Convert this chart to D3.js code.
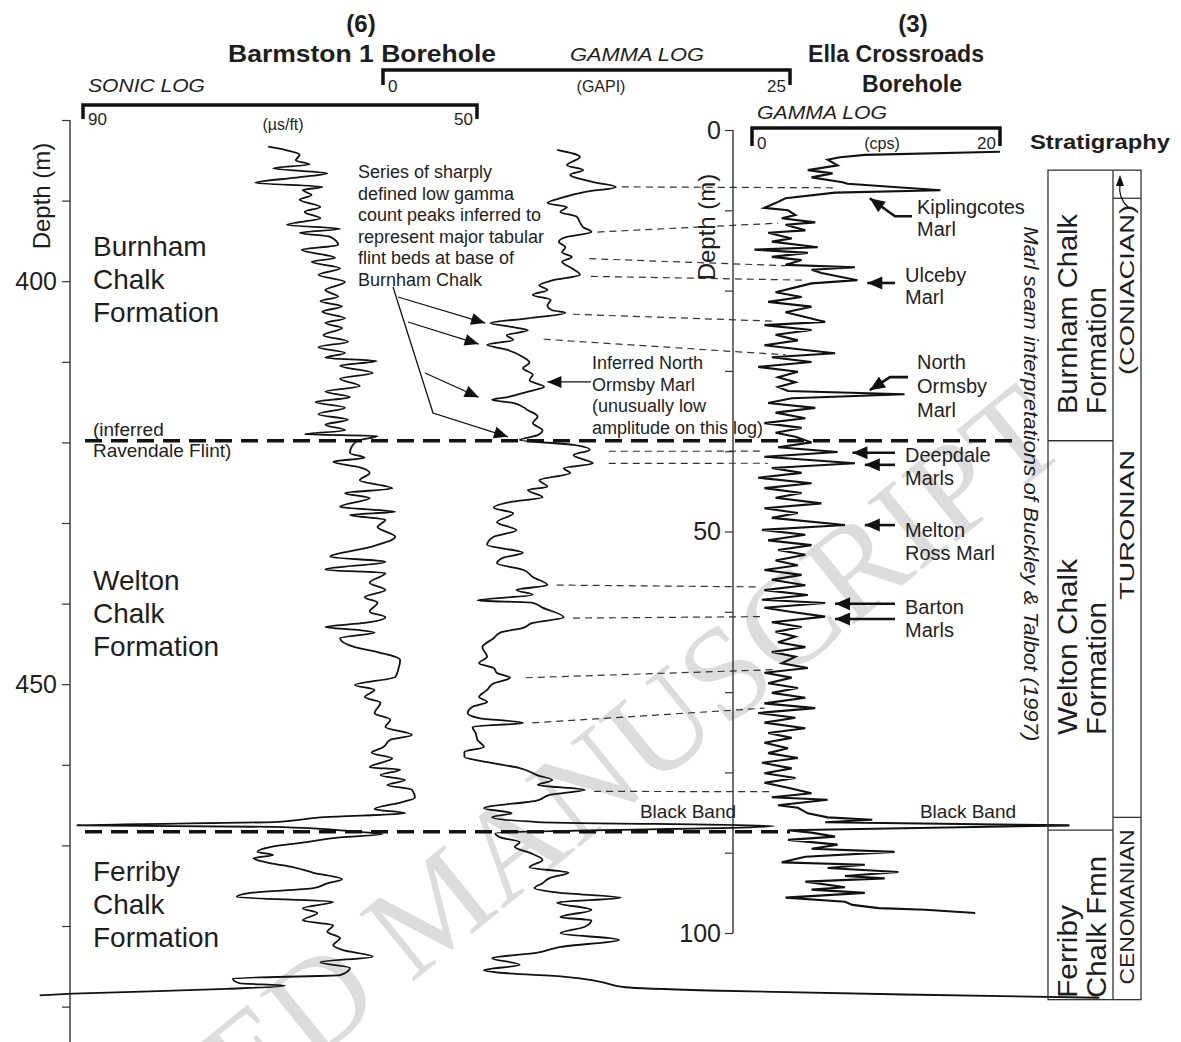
<!DOCTYPE html>
<html>
<head>
<meta charset="utf-8">
<script src="https://cdn.jsdelivr.net/npm/d3@7"></script>
<style>
  body { margin: 0; background: #fff; }
  text { font-family: "Liberation Sans", Arial, sans-serif; fill: #1e1e1e; }
</style>
</head>
<body>
<svg id="chart" width="1181" height="1042"></svg>
<script>
// ---- data ----
// Barmston 1 sonic log: [depth m, us/ft]
const sonicLog = [
  [383.3,71.2],[383.7,69.5],[384.3,68.0],[385.0,68.4],[385.5,67.0],[386.0,70.7],[386.6,65.2],[387.1,68.0],
  [387.8,72.5],[388.3,65.7],[388.7,67.7],[389.3,66.8],[389.9,68.0],[390.8,65.9],[391.4,67.5],[392.2,65.9],
  [393.0,69.3],[393.5,63.9],[394.0,68.0],[394.5,64.9],[395.5,64.1],[396.1,67.8],[397.1,64.4],[397.6,66.8],
  [398.4,63.9],[399.2,66.1],[400.1,63.4],[401.1,65.4],[401.9,64.1],[402.5,65.9],[403.1,63.7],[403.8,65.7],
  [404.6,63.4],[405.2,65.4],[405.8,63.7],[406.7,65.6],[407.5,63.1],[408.2,66.1],[408.9,63.4],[409.5,65.4],
  [409.9,60.2],[410.5,63.9],[411.4,60.6],[412.1,63.9],[413.0,61.9],[413.7,65.4],[414.4,62.9],[415.0,66.4],
  [415.7,63.4],[416.5,66.1],[417.2,63.1],[417.8,65.4],[418.5,63.4],[419.0,67.5],[419.2,60.1],[419.7,61.9],
  [420.3,62.6],[421.3,62.9],[421.9,61.4],[422.4,64.6],[423.1,61.9],[423.8,60.9],[424.7,61.9],[425.7,58.6],
  [426.3,63.4],[426.9,60.9],[428.0,63.9],[428.6,58.3],[429.0,62.9],[429.6,59.3],[430.5,60.1],[431.7,58.3],
  [433.0,60.9],[434.2,64.9],[434.8,59.3],[435.8,65.4],[436.2,59.3],[437.4,60.9],[438.3,59.3],[439.2,61.4],
  [439.9,60.1],[441.0,60.9],[441.7,59.3],[442.4,61.4],[442.9,65.4],[443.3,61.9],[443.6,60.4],[444.3,63.9],
  [445.4,62.4],[446.1,59.8],[447.0,57.8],[448.2,58.0],[449.1,58.3],[450.1,62.4],[450.7,60.4],[451.6,61.4],
  [452.3,59.8],[453.6,60.4],[454.4,58.8],[455.3,59.3],[456.3,56.6],[456.9,58.8],[457.8,59.5],[458.5,60.7],
  [459.2,58.6],[460.3,60.9],[460.6,57.8],[461.3,59.8],[461.9,57.3],[462.5,59.1],[463.1,56.6],[464.1,56.3],
  [464.6,57.5],[465.5,60.4],[466.0,57.3],[466.5,65.6],[467.1,70.7],[467.5,90.6],[467.7,70.7],[468.3,62.2],
  [468.6,59.6],[469.0,63.9],[469.6,67.3],[470.2,71.0],[470.8,72.3],[471.2,70.7],[471.6,72.7],[472.2,71.0],
  [472.7,68.7],[473.4,66.6],[474.2,63.7],[474.7,65.2],[475.3,66.6],[475.9,73.0],[476.4,74.4],[477.0,64.6],
  [477.8,67.7],[478.4,66.2],[479.3,67.7],[479.9,64.6],[480.7,65.2],[481.5,63.9],[482.4,64.6],[483.0,63.6],
  [483.8,60.6],[484.5,65.9],[485.2,62.9],[486.1,63.9],[486.5,74.8],[487.1,74.1],[487.4,69.5],[487.8,75.4],
  [488.4,91.0],[488.6,94.4]
];

// Barmston 1 gamma log: [depth m, GAPI]
const gammaBarmston = [
  [383.7,10.7],[384.6,12.1],[385.6,11.3],[386.2,12.3],[386.8,11.5],[387.7,12.9],[388.3,14.3],[388.9,12.5],
  [389.7,10.9],[390.3,10.1],[390.8,11.3],[391.4,10.9],[392.0,11.9],[392.7,12.1],[393.3,12.3],[393.9,12.8],
  [394.5,11.3],[395.1,10.8],[395.8,11.2],[396.4,11.0],[397.0,11.6],[397.6,11.0],[398.4,11.6],[399.2,12.1],
  [399.9,10.4],[400.5,9.6],[401.1,10.1],[401.7,9.2],[402.3,10.3],[403.0,10.1],[403.6,10.4],[403.9,11.2],
  [404.6,8.9],[405.2,6.6],[405.7,8.0],[406.1,8.9],[406.7,7.6],[407.3,8.0],[407.9,6.4],[408.5,7.6],
  [409.4,8.6],[410.1,9.0],[410.8,8.6],[411.6,9.2],[412.3,9.0],[413.1,9.9],[413.7,8.9],[414.4,7.6],
  [414.7,6.7],[415.1,8.0],[416.0,8.9],[416.8,9.5],[417.6,9.2],[418.5,9.8],[419.1,9.5],[419.7,8.4],
  [420.3,11.7],[420.9,12.7],[421.6,11.7],[422.6,12.9],[423.2,11.1],[423.8,11.5],[424.7,9.6],[425.5,10.1],
  [425.9,8.9],[426.8,9.8],[427.4,7.8],[428.1,6.8],[428.8,8.0],[429.9,7.0],[430.9,8.2],[431.7,6.8],
  [432.7,6.4],[433.7,8.6],[434.3,7.4],[435.0,7.0],[435.8,8.6],[436.7,9.2],[437.7,10.1],[438.3,8.2],
  [438.9,9.2],[439.6,5.8],[439.9,9.2],[440.5,9.8],[441.7,11.1],[442.4,9.2],[443.0,8.6],[443.6,7.2],
  [444.3,6.8],[445.4,6.1],[446.6,6.4],[447.4,5.9],[448.0,6.8],[448.6,7.0],[449.2,7.8],[449.9,6.8],
  [450.7,6.4],[451.6,5.9],[452.2,6.4],[452.8,5.5],[453.6,5.2],[454.2,5.9],[454.8,8.6],[455.3,5.5],
  [456.1,5.7],[456.9,5.8],[457.8,6.2],[458.4,5.0],[459.0,5.0],[459.7,6.5],[460.4,8.4],[461.3,9.5],
  [461.9,10.4],[462.5,9.5],[463.1,12.4],[463.7,10.3],[464.4,9.5],[465.4,6.2],[466.0,7.9],[466.5,6.7],
  [467.1,9.5],[467.6,24.0],[468.5,6.9],[469.0,7.2],[469.6,8.4],[470.2,8.1],[470.9,9.0],[471.8,9.8],
  [472.7,9.0],[473.4,11.4],[474.0,10.3],[474.7,9.8],[475.3,9.3],[475.9,10.9],[476.5,14.6],[477.1,10.7],
  [478.0,12.8],[478.9,10.9],[479.3,12.8],[480.1,12.4],[480.9,10.9],[481.7,14.5],[482.6,10.9],[483.3,9.5],
  [484.0,6.7],[484.8,8.4],[485.5,6.2],[485.8,7.2],[486.3,11.2],[486.9,13.3],[487.6,14.9],[488.0,20.0],
  [488.5,32.0],[488.9,44.0]
];

// Ella Crossroads gamma log: [depth m, cps]
const gammaElla = [
  [2.7,20.0],[3.1,9.1],[3.4,7.1],[3.7,6.1],[4.4,6.9],[5.0,4.5],[5.4,6.5],[5.9,4.8],[6.5,7.3],[6.7,7.7],
  [7.5,15.2],[7.8,6.7],[8.5,2.7],[9.1,1.9],[9.7,1.0],[10.0,2.9],[10.6,3.5],[11.0,2.4],[11.5,5.1],[11.8,2.7],
  [12.5,4.3],[12.8,1.3],[13.5,3.2],[13.9,1.6],[14.6,5.3],[14.9,0.2],[15.3,4.5],[15.8,1.6],[16.2,4.0],[16.8,2.7],
  [17.1,8.3],[17.4,4.8],[17.8,5.6],[18.7,8.5],[19.1,4.8],[19.6,3.5],[20.2,1.9],[20.8,4.0],[21.4,1.3],[22.0,4.8],
  [22.7,2.7],[23.3,4.3],[23.9,5.9],[24.3,1.0],[24.9,4.8],[25.5,1.9],[26.2,3.7],[26.8,1.0],[27.4,4.3],[27.8,6.7],
  [28.3,1.6],[28.9,4.8],[29.5,0.5],[30.1,3.7],[30.8,2.1],[31.4,3.5],[32.0,2.1],[32.5,2.9],[32.9,12.3],[33.4,3.2],
  [34.0,1.3],[34.6,5.1],[35.2,1.9],[35.9,4.3],[36.5,1.0],[37.1,4.0],[37.7,1.9],[38.2,3.5],[38.9,4.8],[39.5,2.1],
  [40.1,6.9],[40.7,1.0],[41.5,8.3],[42.1,1.6],[42.7,4.0],[43.3,0.5],[44.0,4.8],[44.6,1.0],[45.2,4.0],[45.8,1.9],
  [46.5,5.6],[47.1,1.0],[47.7,3.7],[48.3,1.6],[49.2,7.5],[49.8,0.8],[50.4,4.3],[51.1,1.3],[51.7,4.8],[52.3,2.1],
  [52.9,4.3],[53.6,1.9],[54.2,3.7],[54.8,1.0],[55.4,4.0],[56.0,1.6],[56.7,4.3],[57.3,1.0],[57.9,4.5],[58.5,0.8],
  [58.9,5.9],[59.5,1.0],[60.0,3.1],[60.6,5.9],[61.3,1.6],[61.9,4.0],[62.5,1.9],[63.1,3.5],[63.8,2.1],[64.4,4.3],
  [65.0,1.6],[65.6,3.5],[66.4,2.4],[67.0,4.5],[67.6,1.0],[68.2,3.2],[68.9,1.3],[69.5,3.7],[70.1,1.6],[70.7,4.3],
  [71.4,1.0],[72.0,5.1],[72.6,0.5],[73.2,3.5],[73.8,1.0],[74.5,4.3],[75.1,1.3],[75.7,3.2],[76.3,1.0],[77.0,2.9],
  [77.6,1.3],[78.2,3.7],[78.8,0.8],[79.5,3.2],[80.1,1.0],[80.7,3.5],[81.3,1.0],[81.9,2.9],[82.6,4.8],[83.1,1.6],
  [83.4,6.1],[84.1,2.1],[84.4,3.7],[85.1,4.5],[85.6,6.1],[85.9,9.7],[86.2,5.9],[86.6,25.6],[87.2,2.9],[87.5,4.8],
  [88.0,6.7],[88.4,2.9],[89.0,6.9],[89.5,4.8],[89.9,11.5],[90.5,4.3],[91.2,2.4],[91.5,9.1],[91.9,6.1],[92.4,11.8],
  [92.9,7.5],[93.2,10.7],[93.6,4.3],[94.3,7.5],[94.6,4.8],[95.0,9.1],[95.6,2.7],[96.1,7.5],[96.5,8.1],[96.9,10.2],
  [97.1,14.0],[97.5,18.0]
];

// marl seam correlations: [Barmston depth, Barmston GAPI, Ella depth, Ella cps]
const marlLinks = [
  [388.3,14.3,7.2,6.9],[393.9,12.8,11.6,2.1],[397.2,12.3,16.9,2.7],[399.4,12.4,18.7,4.3],
  [404.1,11.3,23.8,1.6],[407.2,9.5,28.0,2.7],[421.1,13.5,40.0,1.0],[422.6,13.5,41.5,1.3],
  [437.7,10.3,56.9,0.5],[441.8,11.3,60.6,1.0],[449.2,8.4,67.2,1.9],[454.8,8.8,72.0,1.0],
  [463.3,12.6,82.4,1.6]
];

// formation boundaries in Barmston 1 (m)
const formationBases = [419.8, 468.3];
// low gamma flint peaks (arrow tips): [depth, GAPI]
const flintPeaks = [[405.2,6.4],[407.8,6.0],[414.4,6.0],[419.3,7.8]];

const barmstonTicks = [380,390,400,410,420,430,440,450,460,470,480,490];
const barmstonLabels = [400,450];
const ellaTicks = [0,10,20,30,40,50,60,70,80,90,100];
const ellaLabels = [0,50,100];

// stratigraphy column, Ella depth (m)
const stratTop = 5.0, stratBase = 108.3;
const formationCols = [
  { name: ["Burnham Chalk", "Formation"], top: 5.0, base: 38.7 },
  { name: ["Welton Chalk", "Formation"], top: 38.7, base: 87.2 },
  { name: ["Ferriby", "Chalk Fmn"], top: 87.2, base: 108.3 }
];
const stageCols = [
  { name: "(CONIACIAN)", top: 5.0, base: 8.5 },
  { name: "TURONIAN", top: 8.5, base: 85.6 },
  { name: "CENOMANIAN", top: 85.6, base: 108.3 }
];

// ---- scales ----
const svg = d3.select("#chart");
const yB = d3.scaleLinear().domain([380, 490]).range([120, 1006.6]);
const yE = d3.scaleLinear().domain([0, 100]).range([130, 933]);
const xSonic = d3.scaleLinear().domain([90, 50]).range([83, 477]);
const xGB = d3.scaleLinear().domain([0, 25]).range([383, 790]);
const xGE = d3.scaleLinear().domain([0, 20]).range([752, 1000]);

// watermark
svg.append("text")
  .attr("transform", "translate(1072,448) rotate(-39)")
  .attr("text-anchor", "end")
  .style("font-family", "'Liberation Serif', 'DejaVu Serif', serif")
  .style("font-size", "132px")
  .style("fill", "#dcdcdc")
  .text("ACCEPTED MANUSCRIPT");

// ---- axes ----
const axB = svg.append("g").attr("transform", "translate(70,0)")
  .call(d3.axisLeft(yB).tickValues(barmstonTicks).tickSize(8).tickPadding(5)
    .tickFormat(d => barmstonLabels.includes(d) ? d : ""));
axB.select(".domain").remove();
axB.selectAll("line").attr("stroke", "#333").attr("stroke-width", 1.2);
axB.selectAll("text").style("font-size", "25px").style("font-family", "'Liberation Sans', Arial");
svg.append("line").attr("x1", 70).attr("x2", 70).attr("y1", 120).attr("y2", 1042)
  .attr("stroke", "#333").attr("stroke-width", 1.4);

const axE = svg.append("g").attr("transform", "translate(733,0)")
  .call(d3.axisLeft(yE).tickValues(ellaTicks).tickSize(8).tickPadding(4)
    .tickFormat(d => ellaLabels.includes(d) ? d : ""));
axE.select(".domain").attr("stroke", "#333").attr("stroke-width", 1.4).attr("d", "M0,130V933");
axE.selectAll("line").attr("stroke", "#333").attr("stroke-width", 1.2);
axE.selectAll("text").style("font-size", "25px").style("font-family", "'Liberation Sans', Arial");

svg.append("text").attr("transform", "translate(50,196) rotate(-90)")
  .attr("text-anchor", "middle").style("font-size", "24px").text("Depth (m)");
svg.append("text").attr("transform", "translate(715,227) rotate(-90)")
  .attr("text-anchor", "middle").style("font-size", "24px").text("Depth (m)");

// ---- scale bars ----
function scaleBar(x0, x1, y, h) {
  svg.append("path").attr("d", `M${x0},${y + h}V${y}H${x1}V${y + h}`)
    .attr("fill", "none").attr("stroke", "#111").attr("stroke-width", 3.5);
}
scaleBar(xSonic(90), xSonic(50), 105, 14);
scaleBar(xGB(0), xGB(25), 70, 15);
scaleBar(xGE(0), xGE(20), 128, 18);

function label(x, y, t, size, opts = {}) {
  const el = svg.append("text").attr("x", x).attr("y", y)
    .attr("text-anchor", opts.anchor || "start")
    .style("font-size", size + "px")
    .style("font-weight", opts.bold ? "bold" : "normal")
    .style("font-style", opts.italic ? "italic" : "normal")
    .text(t);
  if (opts.len) el.attr("textLength", opts.len).attr("lengthAdjust", "spacingAndGlyphs");
  return el;
}
label(361, 32, "(6)", 24, { anchor: "middle", bold: true });
label(362, 62, "Barmston 1 Borehole", 24, { anchor: "middle", bold: true, len: 268 });
label(913, 32, "(3)", 24, { anchor: "middle", bold: true });
label(896, 62, "Ella Crossroads", 24, { anchor: "middle", bold: true, len: 176 });
label(912, 92, "Borehole", 24, { anchor: "middle", bold: true, len: 100 });
label(637, 61, "GAMMA LOG", 19, { anchor: "middle", italic: true, len: 134 });
label(88, 92, "SONIC LOG", 19, { italic: true, len: 117 });
label(xGB(0) + 5, 92, "0", 17);
label(601, 92, "(GAPI)", 16, { anchor: "middle" });
label(xGB(25) - 4, 92, "25", 17, { anchor: "end" });
label(xSonic(90) + 5, 125, "90", 17);
label(283, 130, "(\u00b5s/ft)", 16, { anchor: "middle" });
label(xSonic(50) - 4, 125, "50", 17, { anchor: "end" });
label(757, 119, "GAMMA LOG", 19, { italic: true, len: 130 });
label(xGE(0) + 5, 149, "0", 17);
label(882, 149, "(cps)", 16, { anchor: "middle" });
label(xGE(20) - 4, 149, "20", 17, { anchor: "end" });
label(1030, 149, "Stratigraphy", 21, { bold: true, len: 140 });

// ---- formation boundaries (thick dashed) ----
svg.append("line").attr("x1", 85).attr("x2", 1020)
  .attr("y1", yB(formationBases[0])).attr("y2", yB(formationBases[0]))
  .attr("stroke", "#111").attr("stroke-width", 3.5).attr("stroke-dasharray", "17,9");
svg.append("line").attr("x1", 85).attr("x2", 790)
  .attr("y1", yB(formationBases[1])).attr("y2", yB(formationBases[1]))
  .attr("stroke", "#111").attr("stroke-width", 3.5).attr("stroke-dasharray", "17,9");

// ---- marl correlation lines ----
svg.append("g").selectAll("line").data(marlLinks).join("line")
  .attr("x1", d => xGB(d[1]) + 6).attr("y1", d => yB(d[0]))
  .attr("x2", d => xGE(d[3])).attr("y2", d => yE(d[2]))
  .attr("stroke", "#333").attr("stroke-width", 1.2).attr("stroke-dasharray", "7,5");

// ---- logs ----
const lineB = (xs) => d3.line().x(d => xs(d[1])).y(d => yB(d[0])).curve(d3.curveMonotoneY);
svg.append("path").datum(sonicLog).attr("d", lineB(xSonic))
  .attr("fill", "none").attr("stroke", "#111").attr("stroke-width", 1.8).attr("stroke-linejoin", "round");
svg.append("path").datum(gammaBarmston).attr("d", lineB(xGB))
  .attr("fill", "none").attr("stroke", "#111").attr("stroke-width", 1.8).attr("stroke-linejoin", "round");
svg.append("path").datum(gammaElla)
  .attr("d", d3.line().x(d => xGE(d[1])).y(d => yE(d[0])))
  .attr("fill", "none").attr("stroke", "#111").attr("stroke-width", 2.1).attr("stroke-linejoin", "miter");

// ---- arrows ----
function arrow(pts, sw, size, w) {
  svg.append("path").attr("d", d3.line()(pts))
    .attr("fill", "none").attr("stroke", "#111").attr("stroke-width", sw);
  const [x1, y1] = pts[pts.length - 2], [x2, y2] = pts[pts.length - 1];
  const a = Math.atan2(y2 - y1, x2 - x1);
  const bx = x2 - size * Math.cos(a), by = y2 - size * Math.sin(a);
  const px = -Math.sin(a) * w, py = Math.cos(a) * w;
  svg.append("path").attr("d", `M${x2},${y2}L${bx + px},${by + py}L${bx - px},${by - py}Z`).attr("fill", "#111");
}

// flint beds annotation
const flintTips = flintPeaks.map(p => [xGB(p[1]) - 2, yB(p[0])]);
arrow([[398, 297], flintTips[0]], 1.3, 14, 6);
arrow([[408, 322], flintTips[1]], 1.3, 14, 6);
arrow([[425, 373], flintTips[2]], 1.3, 14, 6);
arrow([[393, 287], [433, 413], flintTips[3]], 1.3, 14, 6);
["Series of sharply", "defined low gamma", "count peaks inferred to", "represent major tabular",
 "flint beds at base of", "Burnham Chalk"].forEach((t, i) => label(358, 178 + i * 21.5, t, 18));

// inferred North Ormsby
arrow([[591, yB(412.5)], [xGB(10.1), yB(412.5)]], 1.3, 14, 6);
["Inferred North", "Ormsby Marl", "(unusually low", "amplitude on this log)"]
  .forEach((t, i) => label(592, 369 + i * 21.5, t, 18));

// Ella marl labels
const ellaArrow = (pts) => arrow(pts, 2.6, 15, 6.5);
let t = [xGE(9.5), yE(8.5)];
ellaArrow([[912, t[1] + 18], [895, t[1] + 18], t]);
label(917, 214, "Kiplingcotes", 20); label(917, 236, "Marl", 20);
t = [xGE(9.3), yE(19.05)];
ellaArrow([[895, t[1]], t]);
label(905, 282, "Ulceby", 20); label(905, 304, "Marl", 20);
t = [xGE(9.5), yE(32.4)];
ellaArrow([[908, t[1] - 13], [890, t[1] - 13], t]);
label(917, 369, "North", 20); label(917, 393, "Ormsby", 20); label(917, 417, "Marl", 20);
ellaArrow([[895, yE(40.2)], [xGE(8.1), yE(40.2)]]);
ellaArrow([[895, yE(41.7)], [xGE(9.1), yE(41.7)]]);
label(905, 462, "Deepdale", 20); label(905, 485, "Marls", 20);
ellaArrow([[895, yE(49.2)], [xGE(9.1), yE(49.2)]]);
label(905, 537, "Melton", 20); label(905, 560, "Ross Marl", 20);
ellaArrow([[895, yE(59.0)], [xGE(6.7), yE(59.0)]]);
ellaArrow([[895, yE(60.9)], [xGE(6.7), yE(60.9)]]);
label(905, 614, "Barton", 20); label(905, 637, "Marls", 20);
label(688, 818, "Black Band", 19, { anchor: "middle" });
label(968, 818, "Black Band", 19, { anchor: "middle" });

// formation names, Barmston
[["Burnham", "Chalk", "Formation", 256], ["Welton", "Chalk", "Formation", 590],
 ["Ferriby", "Chalk", "Formation", 881]].forEach(f => {
  for (let i = 0; i < 3; i++) label(93, f[3] + i * 33, f[i], 28);
});
label(93, 436, "(inferred", 19);
label(93, 457, "Ravendale Flint)", 19);

// marl seam note
svg.append("text").attr("transform", `translate(1024,${yE(12)}) rotate(90)`)
  .style("font-size", "20px").style("font-style", "italic")
  .attr("textLength", 515).attr("lengthAdjust", "spacingAndGlyphs")
  .text("Marl seam interpretations of Buckley & Talbot (1997)");

// ---- stratigraphy column ----
const colL = 1048, colM = 1113, colR = 1141;
const strat = svg.append("g").attr("stroke", "#333").attr("stroke-width", 1.3).attr("fill", "none");
strat.append("rect").attr("x", colL).attr("y", yE(stratTop)).attr("width", colR - colL)
  .attr("height", yE(stratBase) - yE(stratTop));
strat.append("line").attr("x1", colM).attr("x2", colM).attr("y1", yE(stratTop)).attr("y2", yE(stratBase));
formationCols.slice(1).forEach(f => strat.append("line").attr("x1", colL).attr("x2", colM)
  .attr("y1", yE(f.top)).attr("y2", yE(f.top)));
stageCols.slice(1).forEach(s => strat.append("line").attr("x1", colM).attr("x2", colR)
  .attr("y1", yE(s.top)).attr("y2", yE(s.top)));

// formation names: bottom-aligned text lines (rotated)
const fmLens = [[200, 127], [176, 133], [93, 142]];
const fmBottom = [414, 735, 998];
formationCols.forEach((f, i) => {
  svg.append("text").attr("transform", `translate(1077,${fmBottom[i]}) rotate(-90)`)
    .style("font-size", "27px").attr("textLength", fmLens[i][0]).attr("lengthAdjust", "spacingAndGlyphs")
    .text(f.name[0]);
  svg.append("text").attr("transform", `translate(1106,${fmBottom[i]}) rotate(-90)`)
    .style("font-size", "27px").attr("textLength", fmLens[i][1]).attr("lengthAdjust", "spacingAndGlyphs")
    .text(f.name[1]);
});
const stageCenter = [290, 525, 907], stageLens = [170, 150, 155];
stageCols.forEach((s, i) => {
  svg.append("text").attr("transform", `translate(1134,${stageCenter[i]}) rotate(-90)`)
    .attr("text-anchor", "middle").style("font-size", "20px")
    .attr("textLength", stageLens[i]).attr("lengthAdjust", "spacingAndGlyphs").text(s.name);
});
svg.append("path").attr("d", "M1128,207 Q1118,198 1120,184")
  .attr("fill", "none").attr("stroke", "#111").attr("stroke-width", 1.2);
svg.append("path").attr("d", "M1120,175 L1116,186 L1124,186 Z").attr("fill", "#111");
</script>
</body>
</html>
